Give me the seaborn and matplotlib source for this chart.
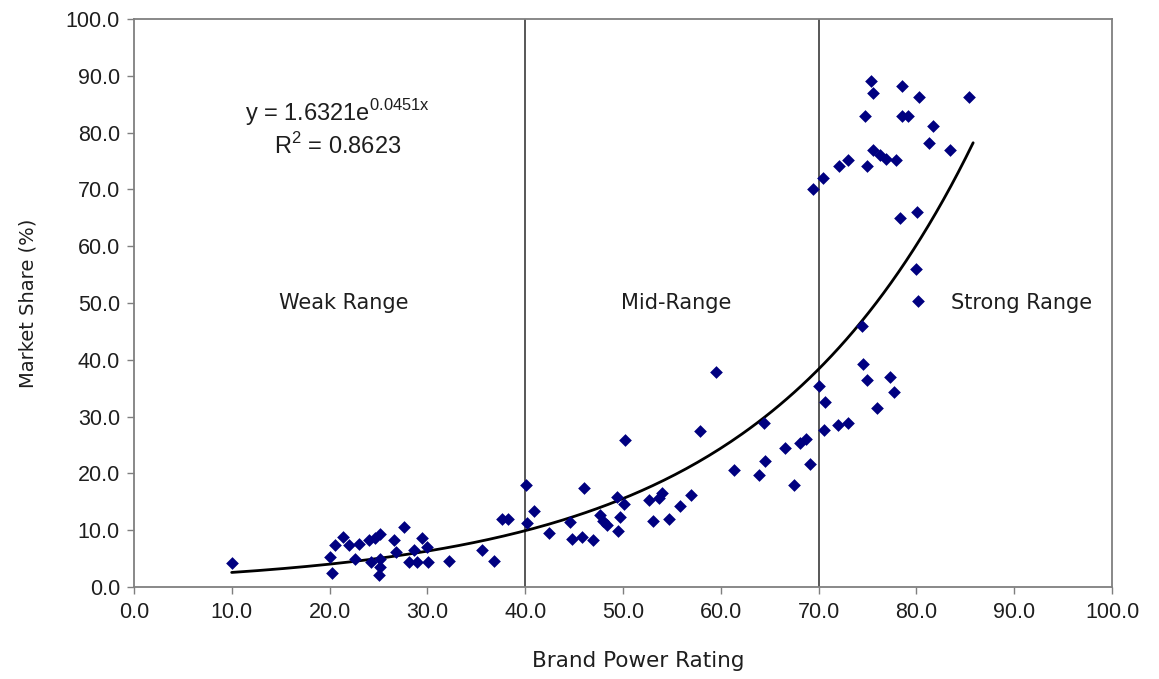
import numpy as np
import pandas as pd
import matplotlib
matplotlib.use("Agg")
import matplotlib.pyplot as plt
from matplotlib.ticker import FormatStrFormatter
import seaborn as sns

# Brand power rating vs. market share for each brand
brand_power = [
    10.0, 20.1, 20.3, 20.6, 21.4, 22.0, 22.6, 23.0, 24.0, 24.6,
    25.2, 24.2, 25.2, 25.2, 25.1, 26.6, 27.6, 26.8, 28.1, 28.6,
    29.5, 28.9, 30.1, 30.0, 32.2, 35.6, 36.8, 37.6, 38.2,
    40.1, 40.2, 40.9, 42.4, 44.6, 44.8, 45.8, 46.9, 46.0, 47.7,
    48.0, 48.4, 49.4, 49.7, 49.5, 50.1, 50.2, 52.7, 53.1, 53.7,
    54.0, 54.7, 55.8, 57.0, 57.9, 59.5, 61.4, 63.9, 64.4, 64.5,
    66.6, 67.5, 68.1, 68.7, 69.1,
    70.0, 70.7, 70.6, 72.0, 73.0, 74.4, 74.5, 74.9, 76.0, 77.3,
    77.7, 80.2, 80.0, 78.3, 80.1, 69.4, 70.4, 72.1, 73.0, 74.9,
    75.6, 76.3, 76.9, 77.9, 75.4, 75.6, 78.5, 80.3, 85.4, 74.7,
    78.5, 79.1, 81.7, 81.3, 83.4,
]
market_share = [
    4.2, 5.2, 2.5, 7.4, 8.8, 7.4, 5.0, 7.6, 8.2, 8.6,
    9.3, 4.4, 4.9, 3.6, 2.1, 8.2, 10.6, 6.2, 4.4, 6.5,
    8.6, 4.4, 4.4, 7.0, 4.5, 6.5, 4.5, 12.0, 12.0,
    18.0, 11.2, 13.3, 9.5, 11.4, 8.5, 8.8, 8.2, 17.4, 12.6,
    11.7, 11.0, 15.8, 12.3, 9.8, 14.6, 25.9, 15.3, 11.7, 15.6,
    16.6, 12.0, 14.3, 16.2, 27.5, 37.9, 20.6, 19.8, 28.8, 22.2,
    24.4, 18.0, 25.4, 26.1, 21.7,
    35.3, 32.6, 27.6, 28.5, 28.8, 46.0, 39.3, 36.4, 31.5, 37.0,
    34.4, 50.4, 55.9, 65.0, 66.0, 70.1, 72.0, 74.2, 75.2, 74.1,
    77.0, 76.1, 75.4, 75.2, 89.1, 87.0, 88.2, 86.2, 86.2, 83.0,
    83.0, 83.0, 81.1, 78.1, 77.0,
]

# Exponential trendline y = a * exp(b x) and its fit quality
fit_a = 1.6321
fit_b = 0.0451
fit_r2 = 0.8623
fit_x_range = [10.0, 85.8]

# Range boundaries and labels
range_bounds = [40.0, 70.0]
range_labels = ["Weak Range", "Mid-Range", "Strong Range"]
range_label_x = [21.5, 55.4, 90.7]
range_label_y = 50.0

axis_ticks = [0, 10, 20, 30, 40, 50, 60, 70, 80, 90, 100]

sns.set_theme(style="white")
plt.rcParams["font.family"] = ["Liberation Sans", "DejaVu Sans"]

points = pd.DataFrame({"Brand Power Rating": brand_power,
                       "Market Share (%)": market_share})
xs = np.linspace(fit_x_range[0], fit_x_range[1], 200)
trend = pd.DataFrame({"x": xs, "y": fit_a * np.exp(fit_b * xs)})

fig = plt.figure(figsize=(11.59, 6.79), dpi=100)
ax = fig.add_axes([0.1155, 0.1355, 0.8440, 0.8365])

frame_color = "#7f7f7f"
text_color = "#1e1e1e"

for xb in range_bounds:
    ax.axvline(xb, color="#4a4a4a", linewidth=1.3, zorder=1)

sns.lineplot(data=trend, x="x", y="y", color="black", linewidth=2.0,
             ax=ax, zorder=2)
sns.scatterplot(data=points, x="Brand Power Rating", y="Market Share (%)",
                marker="D", s=42, color="#000080", edgecolor="#000080",
                linewidth=0, ax=ax, zorder=3)

ax.set_xlim(0, 100)
ax.set_ylim(0, 100)
ax.set_xticks(axis_ticks)
ax.set_yticks(axis_ticks)
ax.xaxis.set_major_formatter(FormatStrFormatter("%.1f"))
ax.yaxis.set_major_formatter(FormatStrFormatter("%.1f"))
ax.tick_params(axis="both", which="major", direction="out", length=5,
               width=1, color=frame_color, labelsize=15.5,
               labelcolor=text_color, bottom=True, left=True)
ax.tick_params(axis="x", pad=6)
ax.tick_params(axis="y", pad=5)

for side in ["left", "bottom", "top", "right"]:
    ax.spines[side].set_visible(True)
    ax.spines[side].set_color(frame_color)
    ax.spines[side].set_linewidth(1.3)

ax.set_xlabel("Brand Power Rating", fontsize=15.5, color=text_color,
              family="DejaVu Sans", labelpad=20)
ax.xaxis.label.set_x(0.516)
ax.set_ylabel("Market Share (%)", fontsize=14, color=text_color,
              family="DejaVu Sans", labelpad=20)

for label, lx in zip(range_labels, range_label_x):
    ax.text(lx, range_label_y, label, ha="center", va="center",
            fontsize=15, color=text_color, family="DejaVu Sans")

ax.text(20.8, 83.6,
        "y = %.4fe$^{\\mathregular{%.4fx}}$" % (fit_a, fit_b),
        ha="center", va="center", fontsize=17, color=text_color)
ax.text(20.8, 77.6, "R$^{\\mathregular{2}}$ = %.4f" % fit_r2,
        ha="center", va="center", fontsize=17, color=text_color)

fig.savefig("out.png", dpi=100, facecolor="white")
